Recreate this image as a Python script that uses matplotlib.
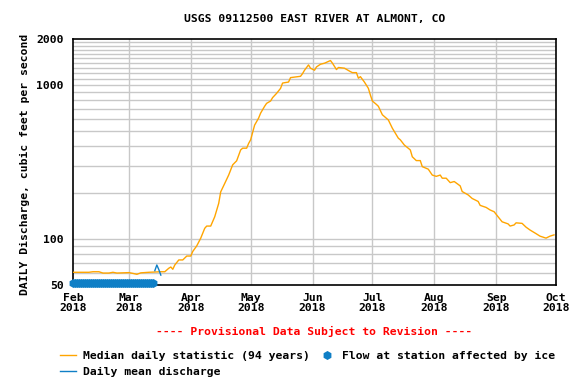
import numpy as np
import matplotlib
matplotlib.use("Agg")
import matplotlib.pyplot as plt
from matplotlib.lines import Line2D

start = np.datetime64('2018-02-01')
end = np.datetime64('2018-10-01')

# median daily statistic: (days after Feb 1, cfs)
median = [(0, 60.5), (8, 60.5), (10, 61), (13, 61), (15, 59.8), (18, 59.8), (20, 60.5),
          (22, 59.8), (25, 60), (28, 60.2), (30, 59.5), (32, 58.7), (34, 60), (38, 60.5),
          (44, 61), (46, 61), (48, 64.3), (49, 65.5), (50, 63.3), (51, 67.5), (53, 72.8),
          (55, 72.8), (57, 77.2), (59, 77.2), (60, 82.7), (62, 89.9), (64, 100.9), (66, 117),
          (67, 121), (69, 121), (71, 139), (73, 170), (74, 202), (76, 229), (78, 260),
          (80, 303), (82, 322), (84, 379), (85, 389), (87, 389), (88, 418), (89, 441),
          (91, 550), (93, 611), (94, 658), (96, 729), (97, 762), (99, 789), (100, 830),
          (102, 885), (104, 954), (105, 1033), (108, 1049), (109, 1121), (114, 1143),
          (115, 1190), (116, 1252), (118, 1356), (119, 1291), (121, 1252), (122, 1316),
          (124, 1370), (126, 1391), (129, 1448), (130, 1391), (132, 1265), (133, 1305),
          (136, 1291), (139, 1226), (140, 1208), (142, 1208), (143, 1111), (144, 1137),
          (146, 1049), (148, 954), (149, 863), (150, 789), (152, 750), (153, 729),
          (155, 642), (158, 594), (160, 525), (163, 452), (164, 441), (166, 408), (169, 379),
          (170, 342), (172, 323), (174, 323), (175, 295), (178, 284), (180, 260), (182, 255),
          (184, 260), (185, 248), (187, 248), (189, 232), (191, 236), (194, 221), (195, 203),
          (198, 193), (200, 183), (203, 175), (204, 165), (207, 160), (209, 154), (211, 150),
          (213, 139), (215, 129), (218, 125), (219, 121), (221, 123), (222, 127), (225, 126),
          (227, 119), (229, 114), (232, 108), (234, 104), (237, 101), (239, 104), (241, 106)]
med_days = [d for d, v in median]
med_vals = [v for d, v in median]

# daily mean discharge (days after Feb 1, cfs)
mean_days = [41, 42, 43, 44]
mean_vals = [62, 67.5, 63, 58]

# days with flow affected by ice
ice_days = list(range(0, 41))
ice_level = 51.5

orange = '#ffa500'
blue = '#0f7fc6'
grid_c = '#c8c8c8'
mono = 'DejaVu Sans Mono'
fs = 8.2

fig = plt.figure(figsize=(5.76, 3.84), dpi=100)
ax = fig.add_axes([73 / 576, 1 - 285 / 384, 483 / 576, 246 / 384])

med_x = start + np.array(med_days).astype('timedelta64[D]')
mean_x = start + np.array(mean_days).astype('timedelta64[D]')
ice_x = start + np.array(ice_days).astype('timedelta64[D]')

ax.plot(med_x, med_vals, color=orange, lw=1, zorder=3)
ax.plot(mean_x, mean_vals, color=blue, lw=1, zorder=4)
ax.plot(ice_x, [ice_level] * len(ice_x), 'h', color=blue, ms=6.5, mew=0,
        clip_on=False, zorder=5)

ax.set_yscale('log')
ax.set_ylim(50, 2000)
ax.set_xlim(start, end)

months = np.arange(np.datetime64('2018-02'), np.datetime64('2018-11'), np.timedelta64(1, 'M'))
mticks = months.astype('datetime64[D]')
ax.set_xticks(mticks)
ax.set_xticklabels([m.astype(object).strftime('%b') + '\n2018' for m in mticks],
                   fontfamily=mono, fontweight='bold', fontsize=fs, linespacing=1.1)
ax.set_yticks([50, 100, 1000, 2000])
ax.set_yticklabels(['50', '100', '1000', '2000'], fontfamily=mono, fontweight='bold', fontsize=fs)
ax.set_yticks([], minor=True)
ax.tick_params(axis='y', length=0, pad=6.5)
ax.tick_params(axis='x', length=0, pad=5.5)

hlines = list(range(60, 100, 10)) + list(range(100, 1000, 100)) + list(range(1000, 2000, 100))
for h in hlines:
    ax.axhline(h, color=grid_c, lw=1, zorder=1)
for m in mticks[1:-1]:
    ax.axvline(m, color=grid_c, lw=1, zorder=1)

for s in ax.spines.values():
    s.set_linewidth(1.2)
    s.set_color('black')

cx = (73 + 556) / 2 / 576
fig.text(cx, 1 - 19 / 384, 'USGS 09112500 EAST RIVER AT ALMONT, CO', ha='center', va='center',
         fontfamily=mono, fontweight='bold', fontsize=fs)
fig.text(25 / 576, 1 - 164 / 384, 'DAILY Discharge, cubic feet per second', rotation=90,
         ha='center', va='center', fontfamily=mono, fontweight='bold', fontsize=fs)
fig.text(cx, 1 - 331 / 384, '---- Provisional Data Subject to Revision ----', ha='center',
         va='center', color='red', fontfamily=mono, fontweight='bold', fontsize=fs)

handles = [Line2D([], [], color=orange, lw=1),
           Line2D([], [], color=blue, lw=1),
           Line2D([], [], color=blue, marker='h', ls='none', ms=6.5, mew=0)]
labels = ['Median daily statistic (94 years)', 'Daily mean discharge',
          'Flow at station affected by ice']
fig.legend(handles, labels, loc='upper left', bbox_to_anchor=(60 / 576, 1 - 351 / 384),
           ncol=2, frameon=False, borderpad=0, borderaxespad=0, handlelength=1.44,
           handletextpad=0.58, columnspacing=0.82, labelspacing=0.55,
           prop={'family': mono, 'weight': 'bold', 'size': fs})

fig.savefig('out.png', dpi=100)
